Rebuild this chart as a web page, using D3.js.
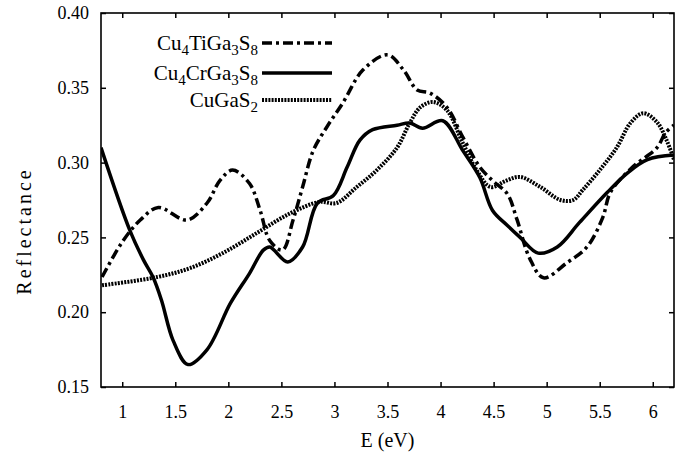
<!DOCTYPE html>
<html>
<head>
<meta charset="utf-8">
<script src="https://cdn.jsdelivr.net/npm/d3@7"></script>
<style>
  body { margin: 0; background: #fff; }
  svg text { font-family: "Liberation Serif", "Tinos", "Times New Roman", "DejaVu Serif", "Noto Serif", serif !important; fill: #000; }
</style>
</head>
<body>
<script>
// values
const tiE = [0.81, 1.01, 1.17, 1.34, 1.61, 1.80, 1.92, 2.04, 2.20, 2.30, 2.39, 2.51, 2.61, 2.70, 2.80, 2.93, 3.08, 3.27, 3.50, 3.65, 3.78, 3.90, 4.06, 4.21, 4.37, 4.49, 4.63, 4.72, 4.84, 4.97, 5.19, 5.38, 5.53, 5.60, 5.81, 6.04, 6.12, 6.2];
const tiR = [0.2235, 0.248, 0.2616, 0.270, 0.2616, 0.273, 0.288, 0.295, 0.286, 0.268, 0.248, 0.2416, 0.2616, 0.2837, 0.308, 0.324, 0.340, 0.362, 0.372, 0.362, 0.3485, 0.3465, 0.337, 0.317, 0.297, 0.288, 0.279, 0.262, 0.236, 0.223, 0.233, 0.2436, 0.2636, 0.28, 0.297, 0.310, 0.320, 0.325];

const crE = [0.8, 1.07, 1.20, 1.29, 1.37, 1.48, 1.62, 1.80, 2.02, 2.20, 2.33, 2.39, 2.56, 2.70, 2.84, 2.99, 3.12, 3.24, 3.36, 3.59, 3.71, 3.83, 4.02, 4.21, 4.37, 4.49, 4.63, 4.75, 4.92, 5.10, 5.31, 5.57, 5.76, 5.95, 6.2];
const crR = [0.310, 0.255, 0.235, 0.2235, 0.208, 0.181, 0.165, 0.175, 0.206, 0.226, 0.2415, 0.2436, 0.2336, 0.2436, 0.273, 0.278, 0.297, 0.315, 0.322, 0.325, 0.3265, 0.323, 0.328, 0.308, 0.290, 0.268, 0.258, 0.250, 0.2395, 0.2436, 0.26, 0.28, 0.293, 0.302, 0.305];

const gaE = [0.81, 1.33, 1.64, 1.95, 2.27, 2.58, 2.86, 3.02, 3.21, 3.40, 3.59, 3.71, 3.81, 3.93, 4.06, 4.21, 4.34, 4.47, 4.62, 4.75, 4.94, 5.13, 5.25, 5.34, 5.50, 5.66, 5.79, 5.91, 6.04, 6.13, 6.2];
const gaR = [0.218, 0.2235, 0.2295, 0.2396, 0.253, 0.266, 0.2737, 0.273, 0.2837, 0.295, 0.310, 0.3265, 0.337, 0.3405, 0.335, 0.313, 0.295, 0.2837, 0.288, 0.2904, 0.2837, 0.275, 0.275, 0.2817, 0.295, 0.310, 0.3265, 0.333, 0.327, 0.315, 0.302];

const xTicks = [1, 1.5, 2, 2.5, 3, 3.5, 4, 4.5, 5, 5.5, 6];
const yTicks = [0.15, 0.20, 0.25, 0.30, 0.35, 0.40];

const series = [
  { name: ["Cu", "4", "TiGa", "3", "S", "8"], E: tiE, R: tiR, dash: "10,4,3,4" },
  { name: ["Cu", "4", "CrGa", "3", "S", "8"], E: crE, R: crR, dash: null },
  { name: ["CuGaS", "2"], E: gaE, R: gaR, dash: "2,1.2" }
];

const width = 691, height = 460;
const margin = { top: 13, right: 17, bottom: 73, left: 101 };

const svg = d3.select("body").append("svg")
  .attr("width", width)
  .attr("height", height);

const x = d3.scaleLinear().domain([0.8, 6.2]).range([margin.left, width - margin.right]);
const y = d3.scaleLinear().domain([0.15, 0.40]).range([height - margin.bottom, margin.top]);

// ticks pointing inward on all sides
svg.append("g")
  .attr("transform", `translate(0,${height - margin.bottom})`)
  .call(d3.axisBottom(x).tickValues(xTicks).tickSizeInner(-5).tickSizeOuter(0).tickPadding(18).tickFormat(d3.format("")))
  .call(g => g.select(".domain").remove())
  .call(g => g.selectAll("text").style("font-size", "18px"));

svg.append("g")
  .attr("transform", `translate(0,${margin.top})`)
  .call(d3.axisTop(x).tickValues(xTicks).tickSizeInner(-5).tickSizeOuter(0).tickFormat(""))
  .call(g => g.select(".domain").remove());

svg.append("g")
  .attr("transform", `translate(${margin.left},0)`)
  .call(d3.axisLeft(y).tickValues(yTicks).tickSizeInner(-5).tickSizeOuter(0).tickPadding(12).tickFormat(d3.format(".2f")))
  .call(g => g.select(".domain").remove())
  .call(g => g.selectAll("text").style("font-size", "18px"));

svg.append("g")
  .attr("transform", `translate(${width - margin.right},0)`)
  .call(d3.axisRight(y).tickValues(yTicks).tickSizeInner(-5).tickSizeOuter(0).tickFormat(""))
  .call(g => g.select(".domain").remove());

svg.selectAll(".tick line").attr("stroke", "#000").attr("stroke-width", 1.5);

// frame
svg.append("rect")
  .attr("x", margin.left)
  .attr("y", margin.top)
  .attr("width", width - margin.left - margin.right)
  .attr("height", height - margin.top - margin.bottom)
  .attr("fill", "none")
  .attr("stroke", "#000")
  .attr("stroke-width", 1.6);

// curves
const line = d3.line()
  .x(d => x(d[0]))
  .y(d => y(d[1]))
  .curve(d3.curveCatmullRom.alpha(0.5));

svg.append("defs").append("clipPath").attr("id", "clip")
  .append("rect")
  .attr("x", margin.left).attr("y", margin.top)
  .attr("width", width - margin.left - margin.right)
  .attr("height", height - margin.top - margin.bottom);

series.forEach(s => {
  svg.append("path")
    .datum(s.E.map((e, i) => [e, s.R[i]]))
    .attr("clip-path", "url(#clip)")
    .attr("fill", "none")
    .attr("stroke", "#000")
    .attr("stroke-width", s.dash === "2,1.2" ? 4 : 3.5)
    .attr("stroke-dasharray", s.dash)
    .attr("d", line);
});

// legend
const legendY = [43, 73, 100];
series.forEach((s, i) => {
  const t = svg.append("text")
    .attr("x", 258)
    .attr("y", legendY[i] + 7)
    .attr("text-anchor", "end")
    .style("font-size", "21px");
  s.name.forEach((part, j) => {
    const sp = t.append("tspan").text(part);
    if (j % 2 === 1) sp.style("font-size", "15px").attr("dy", 5);
    else if (j > 0) sp.attr("dy", -5);
  });
  svg.append("line")
    .attr("x1", 262).attr("x2", 332)
    .attr("y1", legendY[i]).attr("y2", legendY[i])
    .attr("stroke", "#000")
    .attr("stroke-width", s.dash === "2,1.2" ? 4 : 3.5)
    .attr("stroke-dasharray", s.dash);
});

// axis titles
svg.append("text")
  .attr("x", (margin.left + width - margin.right) / 2)
  .attr("y", 447)
  .attr("text-anchor", "middle")
  .style("font-size", "20px")
  .text("E (eV)");

svg.append("text")
  .attr("transform", "translate(31,231) rotate(-90)")
  .attr("text-anchor", "middle")
  .style("font-size", "20px")
  .style("letter-spacing", "3px")
  .text("Reflectance");
</script>
</body>
</html>
